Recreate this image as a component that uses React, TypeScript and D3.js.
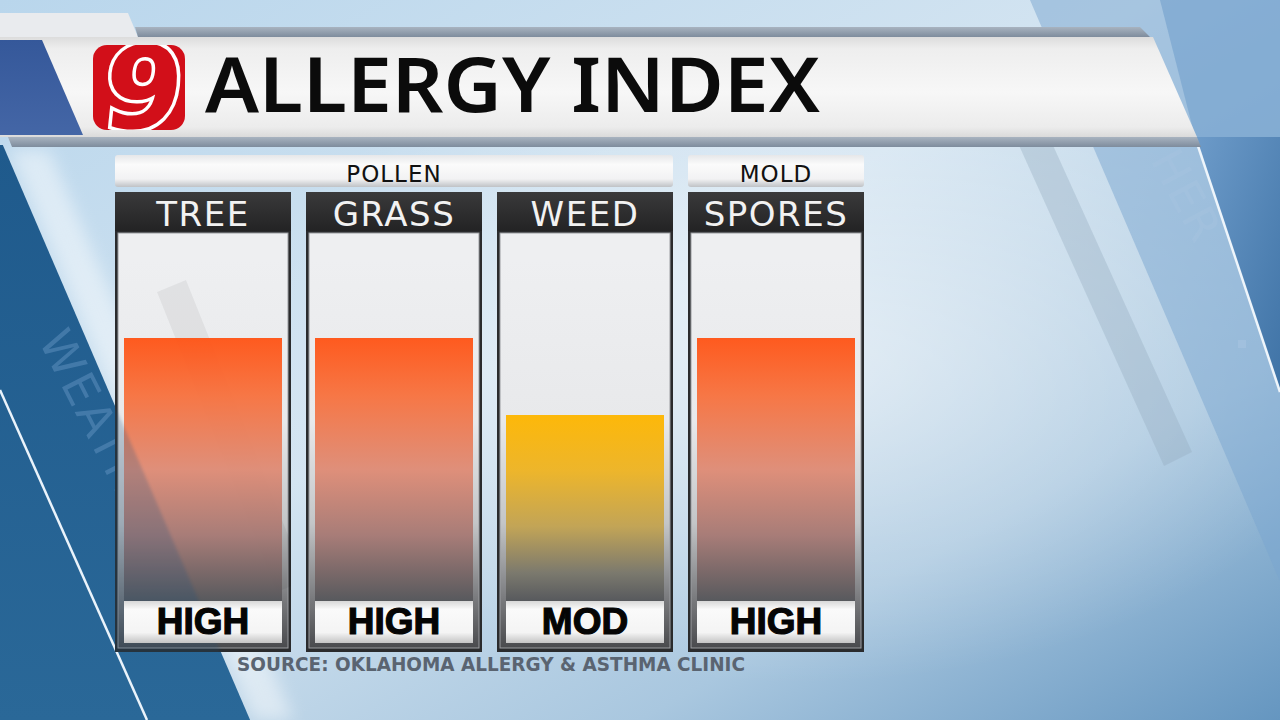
import React from "react";
import * as d3 from "d3";

const categories = ["TREE", "GRASS", "WEED", "SPORES"];
const groupOf = ["POLLEN", "POLLEN", "POLLEN", "MOLD"];
const groupNames = ["POLLEN", "MOLD"];
const levelNames = ["", "LOW", "MOD", "HIGH", "VERY HIGH"];
const values = [3, 3, 2, 3]; // index into levelNames
const title = "ALLERGY INDEX";
const source = "SOURCE: OKLAHOMA ALLERGY & ASTHMA CLINIC";

const W = 1280;
const H = 720;

export default function App() {
  const x = d3
    .scaleBand<string>()
    .domain(categories)
    .range([115, 864])
    .paddingInner(15 / 191)
    .paddingOuter(0);
  const y = d3.scaleLinear().domain([0, 4]).range([569, 261]);
  const bw = x.bandwidth();
  const panelTop = 192;
  const headerH = 39;
  const panelBottom = 652;
  const labelTop = 601;
  const labelBottom = 643;
  const inset = 9;

  const bandEdge = (yy: number) => 5 + 0.43 * (yy - 150);
  const leftBand = `M0,145 L${bandEdge(145)},145 L${bandEdge(720)},720 L0,720 Z`;

  const groups = groupNames.map((g) => {
    const idx = categories.filter((_, i) => groupOf[i] === g);
    const x0 = x(idx[0])!;
    const x1 = x(idx[idx.length - 1])! + bw;
    return { name: g, x0, x1 };
  });

  return (
    <svg
      width={W}
      height={H}
      viewBox={`0 0 ${W} ${H}`}
      style={{ position: "fixed", left: 0, top: 0 }}
    >
      <defs>
        <linearGradient id="bg" x1="0" y1="0" x2="1" y2="1">
          <stop offset="0" stopColor="#b9d6ec" />
          <stop offset="0.45" stopColor="#d3e4f1" />
          <stop offset="0.75" stopColor="#a9c7df" />
          <stop offset="1" stopColor="#6596c0" />
        </linearGradient>
        <radialGradient id="glow" cx="0.62" cy="0.5" r="0.45">
          <stop offset="0" stopColor="#ffffff" stopOpacity="0.55" />
          <stop offset="1" stopColor="#ffffff" stopOpacity="0" />
        </radialGradient>
        <linearGradient id="leftBandG" x1="0" y1="0" x2="0" y2="1">
          <stop offset="0" stopColor="#1f5a8c" />
          <stop offset="1" stopColor="#2a6898" />
        </linearGradient>
        <linearGradient id="banner" x1="0" y1="0" x2="0" y2="1">
          <stop offset="0" stopColor="#dcdcdc" />
          <stop offset="0.12" stopColor="#eeeeee" />
          <stop offset="0.55" stopColor="#f7f7f7" />
          <stop offset="0.9" stopColor="#ececec" />
          <stop offset="1" stopColor="#dadada" />
        </linearGradient>
        <linearGradient id="greyStrip" x1="0" y1="0" x2="0" y2="1">
          <stop offset="0" stopColor="#a8b3c0" />
          <stop offset="1" stopColor="#7e8c9d" />
        </linearGradient>
        <linearGradient id="blueBlock" x1="0" y1="0" x2="0" y2="1">
          <stop offset="0" stopColor="#35589a" />
          <stop offset="1" stopColor="#4466a6" />
        </linearGradient>
        <linearGradient id="groupBox" x1="0" y1="0" x2="0" y2="1">
          <stop offset="0" stopColor="#e6e7e9" />
          <stop offset="0.3" stopColor="#fbfbfb" />
          <stop offset="0.75" stopColor="#f2f2f3" />
          <stop offset="1" stopColor="#bfc2c6" />
        </linearGradient>
        <linearGradient id="header" x1="0" y1="0" x2="0" y2="1">
          <stop offset="0" stopColor="#3a3a3b" />
          <stop offset="1" stopColor="#232324" />
        </linearGradient>
        <linearGradient id="panelBody" x1="0" y1="0" x2="0" y2="1">
          <stop offset="0" stopColor="#f7f8fa" />
          <stop offset="0.45" stopColor="#f0f1f3" />
          <stop offset="0.7" stopColor="#caccce" />
          <stop offset="0.88" stopColor="#7e7f82" />
          <stop offset="1" stopColor="#4b4c4f" />
        </linearGradient>
        <linearGradient id="grad-3" x1="0" y1="0" x2="0" y2="1">
          <stop offset="0" stopColor="#ff5416" />
          <stop offset="0.22" stopColor="#f7723f" />
          <stop offset="0.5" stopColor="#df8c76" />
          <stop offset="0.75" stopColor="#a77a75" />
          <stop offset="1" stopColor="#56585c" />
        </linearGradient>
        <linearGradient id="grad-2" x1="0" y1="0" x2="0" y2="1">
          <stop offset="0" stopColor="#feb600" />
          <stop offset="0.3" stopColor="#eeb424" />
          <stop offset="0.6" stopColor="#c2a352" />
          <stop offset="0.85" stopColor="#7a786c" />
          <stop offset="1" stopColor="#56585c" />
        </linearGradient>
        <linearGradient id="grad-1" x1="0" y1="0" x2="0" y2="1">
          <stop offset="0" stopColor="#7fd321" />
          <stop offset="1" stopColor="#56585c" />
        </linearGradient>
        <linearGradient id="grad-4" x1="0" y1="0" x2="0" y2="1">
          <stop offset="0" stopColor="#e0102a" />
          <stop offset="1" stopColor="#56585c" />
        </linearGradient>
        <linearGradient id="labelBox" x1="0" y1="0" x2="0" y2="1">
          <stop offset="0" stopColor="#d8d8d8" />
          <stop offset="0.2" stopColor="#fafafa" />
          <stop offset="0.75" stopColor="#f4f4f4" />
          <stop offset="1" stopColor="#c4c4c4" />
        </linearGradient>
        <linearGradient id="rightDark" x1="0" y1="0" x2="1" y2="1">
          <stop offset="0" stopColor="#6d9bc9" />
          <stop offset="1" stopColor="#3f73a6" />
        </linearGradient>
        <clipPath id="logoClip">
          <rect x={93} y={45} width={92} height={85} rx={14} />
        </clipPath>
        <clipPath id="panelsClip">
          {categories.map((c) => (
            <rect key={c} x={x(c)!} y={panelTop + headerH} width={bw} height={panelBottom - panelTop - headerH} />
          ))}
        </clipPath>
        <filter id="blur8">
          <feGaussianBlur stdDeviation="8" />
        </filter>
        <filter id="blur2">
          <feGaussianBlur stdDeviation="1.5" />
        </filter>
      </defs>

      {/* background */}
      <rect x={0} y={0} width={W} height={H} fill="url(#bg)" />
      <rect x={0} y={0} width={W} height={H} fill="url(#glow)" />

      {/* right side bands */}
      <path d={`M1030,0 L1280,0 L1280,${(1280 - 1030) / 0.43} Z`} fill="#7aa6cf" opacity={0.5} />
      <path d="M1012,130 L1046,130 L1192,452 L1164,466 Z" fill="#92a8be" opacity={0.35} />
      <path d="M1195,137 L1280,137 L1280,392 Z" fill="url(#rightDark)" />
      <path d="M1160,0 L1280,0 L1280,137 L1195,137 Z" fill="#6e9ccb" opacity={0.55} />
      <line x1={1195} y1={137} x2={1280} y2={392} stroke="#eef5fb" strokeWidth={2.5} />
      <text
        x={0}
        y={0}
        transform="translate(1150,160) rotate(62)"
        fontFamily="DejaVu Sans"
        fontSize={44}
        fill="#a7c4e0"
        opacity={0.45}
        letterSpacing={2}
      >
        HER
      </text>
      <rect x={1238} y={340} width={8} height={8} fill="#a9c6e2" opacity={0.5} />

      {/* left dark band */}
      <path
        d={`M${bandEdge(150) + 4},150 L${bandEdge(150) + 44},150 L${bandEdge(720) + 44},720 L${bandEdge(720) + 4},720 Z`}
        fill="#ffffff"
        opacity={0.45}
        filter="url(#blur8)"
      />
      <path d={leftBand} fill="url(#leftBandG)" />
      <text
        x={0}
        y={0}
        transform="translate(38,340) rotate(63)"
        fontFamily="DejaVu Sans"
        fontSize={46}
        fill="#5d8fbd"
        opacity={0.55}
        letterSpacing={3}
      >
        WEATHER
      </text>
      <line x1={0} y1={390} x2={147} y2={720} stroke="#eaf3fb" strokeWidth={2.5} />

      {/* banner */}
      <path d="M0,13 L128,13 L138,37 L0,37 Z" fill="#e9ebee" />
      <path d="M135,27 L1140,27 L1150,37 L138,37 Z" fill="url(#greyStrip)" />
      <path d="M0,37 L1153,37 L1197,137 L0,137 Z" fill="url(#banner)" />
      <path d="M0,40 L42,40 L83,135 L0,135 Z" fill="url(#blueBlock)" />
      <path d="M8,137 L1197,137 L1201,147 L12,147 Z" fill="url(#greyStrip)" />

      {/* logo */}
      <rect x={93} y={45} width={92} height={85} rx={14} fill="#d20f19" />
      <g clipPath="url(#logoClip)">
        <text
          x={141}
          y={128}
          textAnchor="middle"
          fontFamily="DejaVu Sans"
          fontWeight="bold"
          fontSize={114}
          fill="#d20f19"
          stroke="#ffffff"
          strokeWidth={7}
          paintOrder="stroke"
          transform="skewX(-6) translate(12,0)"
        >
          9
        </text>
      </g>

      <text
        x={205}
        y={112}
        fontFamily="'Noto Sans'"
        fontWeight={600}
        fontSize={75}
        fill="#0b0b0b"
        textLength={615}
        lengthAdjust="spacingAndGlyphs"
      >
        {title}
      </text>

      {/* group headers */}
      {groups.map((g) => (
        <g key={g.name}>
          <rect x={g.x0} y={155} width={g.x1 - g.x0} height={32} rx={3} fill="url(#groupBox)" />
          <text
            x={(g.x0 + g.x1) / 2}
            y={182}
            textAnchor="middle"
            fontFamily="DejaVu Sans"
            fontSize={23}
            letterSpacing={1}
            fill="#111"
          >
            {g.name}
          </text>
        </g>
      ))}

      {/* panels */}
      {categories.map((c) => {
        const x0 = x(c)!;
        return (
          <g key={c}>
            <rect x={x0} y={panelTop} width={bw} height={panelBottom - panelTop} fill="#2a2b2d" />
            <rect x={x0} y={panelTop} width={bw} height={headerH} fill="url(#header)" />
            <rect
              x={x0 + 3}
              y={panelTop + headerH + 2}
              width={bw - 6}
              height={panelBottom - panelTop - headerH - 6}
              fill="url(#panelBody)"
              stroke="#a0a2a6"
              strokeWidth={1}
              opacity={0.96}
            />
            <text
              x={x0 + bw / 2}
              y={226}
              textAnchor="middle"
              fontFamily="DejaVu Sans"
              fontSize={34}
              letterSpacing={1.5}
              fill="#f2f2f2"
            >
              {c}
            </text>
          </g>
        );
      })}

      {/* faint stripe through tree panel */}
      <path d="M157,292 L186,280 L306,580 L277,592 Z" fill="#000" opacity={0.05} clipPath="url(#panelsClip)" />

      {/* bars */}
      {categories.map((c, i) => {
        const x0 = x(c)! + inset;
        const v = values[i];
        const top = y(v);
        return (
          <rect
            key={c}
            x={x0}
            y={top}
            width={bw - 2 * inset}
            height={labelTop - top}
            fill={`url(#grad-${v})`}
            opacity={0.96}
          />
        );
      })}

      {/* dark band showing through panels */}
      <g clipPath="url(#panelsClip)">
        <path d={leftBand} fill="#1f4f7a" opacity={0.22} filter="url(#blur2)" />
      </g>

      {/* labels */}
      {categories.map((c, i) => {
        const x0 = x(c)! + inset;
        return (
          <g key={c}>
            <rect x={x0} y={labelTop} width={bw - 2 * inset} height={labelBottom - labelTop} fill="url(#labelBox)" />
            <text
              x={x0 + (bw - 2 * inset) / 2}
              y={634}
              textAnchor="middle"
              fontFamily="Liberation Sans"
              fontWeight="bold"
              fontSize={37}
              fill="#050505"
              stroke="#050505"
              strokeWidth={1.2}
            >
              {levelNames[values[i]]}
            </text>
          </g>
        );
      })}

      <text
        x={237}
        y={671}
        fontFamily="DejaVu Sans"
        fontWeight="bold"
        fontSize={19}
        fill="#5a6471"
        textLength={508}
        lengthAdjust="spacingAndGlyphs"
      >
        {source}
      </text>
    </svg>
  );
}
